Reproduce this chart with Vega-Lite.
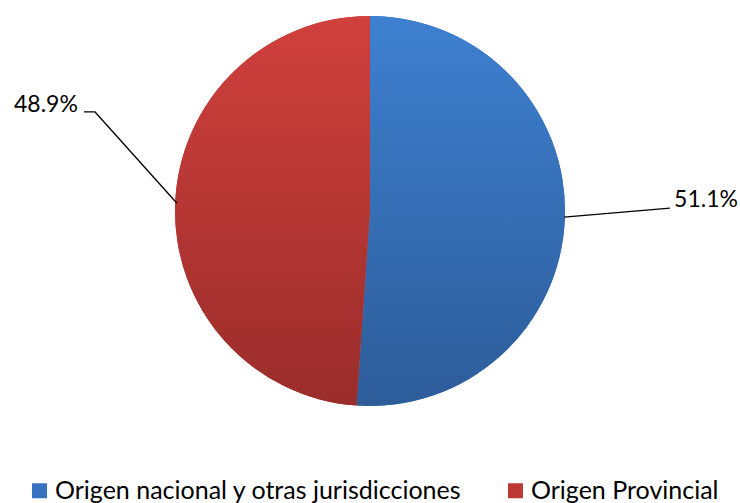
{
  "$schema": "https://vega.github.io/schema/vega-lite/v6.json",
  "width": 740,
  "height": 422,
  "padding": 0,
  "autosize": {"type": "pad"},
  "background": "white",
  "config": {"view": {"stroke": null}, "font": "Lato"},
  "datasets": {
    "slices": [
      {"origen": "Origen nacional y otras jurisdicciones", "pct": 51.1},
      {"origen": "Origen Provincial", "pct": 48.9}
    ],
    "leaders": [
      {"origen": "Origen nacional y otras jurisdicciones", "step": 1, "px": 0.995, "py": -0.031},
      {"origen": "Origen nacional y otras jurisdicciones", "step": 2, "px": 1.538, "py": 0.015},
      {"origen": "Origen Provincial", "step": 1, "px": -0.99, "py": 0.04},
      {"origen": "Origen Provincial", "step": 2, "px": -1.41, "py": 0.508},
      {"origen": "Origen Provincial", "step": 3, "px": -1.467, "py": 0.508}
    ],
    "labels": [
      {"origen": "Origen nacional y otras jurisdicciones", "txt": "51.1%", "px": 1.723, "py": 0.056},
      {"origen": "Origen Provincial", "txt": "48.9%", "px": -1.662, "py": 0.544}
    ]
  },
  "layer": [
    {
      "data": {"name": "slices"},
      "mark": {"type": "arc", "outerRadius": 195, "stroke": null},
      "encoding": {
        "theta": {"field": "pct", "type": "quantitative", "stack": true},
        "order": {"field": "pct", "type": "quantitative", "sort": "descending"},
        "color": {
          "field": "origen",
          "type": "nominal",
          "sort": ["Origen nacional y otras jurisdicciones", "Origen Provincial"],
          "scale": {
            "domain": ["Origen nacional y otras jurisdicciones", "Origen Provincial"],
            "range": ["#3672BF", "#BD3936"]
          },
          "legend": {
            "title": null,
            "orient": "none",
            "legendX": 27,
            "legendY": 478,
            "padding": 0,
            "direction": "horizontal",
            "symbolType": "square",
            "symbolSize": 225,
            "symbolStrokeWidth": 0,
            "symbolOpacity": 1,
            "labelFontSize": 25,
            "labelFont": "Lato",
            "labelColor": "#000000",
            "labelLimit": 700,
            "labelOffset": 3,
            "columnPadding": 41
          }
        }
      }
    },
    {
      "data": {"name": "slices"},
      "mark": {"type": "arc", "outerRadius": 195, "stroke": null},
      "encoding": {
        "theta": {"field": "pct", "type": "quantitative", "stack": true},
        "order": {"field": "pct", "type": "quantitative", "sort": "descending"},
        "fill": {
          "condition": {
            "test": "datum.origen === 'Origen Provincial'",
            "value": {"gradient": "linear", "x1": 0, "y1": 0, "x2": 0, "y2": 1, "stops": [{"offset": 0, "color": "#D0403C"}, {"offset": 1, "color": "#9A2D2B"}]}
          },
          "value": {"gradient": "linear", "x1": 0, "y1": 0, "x2": 0, "y2": 1, "stops": [{"offset": 0, "color": "#3E80D0"}, {"offset": 1, "color": "#2D5C99"}]}
        }
      }
    },
    {
      "data": {"name": "leaders"},
      "mark": {"type": "line", "color": "#000000", "strokeWidth": 1.3},
      "encoding": {
        "x": {"field": "px", "type": "quantitative", "scale": {"domain": [-1.8974, 1.8974], "nice": false, "zero": false}, "axis": null},
        "y": {"field": "py", "type": "quantitative", "scale": {"domain": [-1.0821, 1.0821], "nice": false, "zero": false}, "axis": null},
        "detail": {"field": "origen"},
        "order": {"field": "step", "type": "quantitative"}
      }
    },
    {
      "data": {"name": "labels"},
      "mark": {"type": "text", "fontSize": 23, "font": "Lato", "color": "#000000", "align": "center", "baseline": "middle"},
      "encoding": {
        "x": {"field": "px", "type": "quantitative", "scale": {"domain": [-1.8974, 1.8974], "nice": false, "zero": false}, "axis": null},
        "y": {"field": "py", "type": "quantitative", "scale": {"domain": [-1.0821, 1.0821], "nice": false, "zero": false}, "axis": null},
        "text": {"field": "txt"}
      }
    }
  ]
}
